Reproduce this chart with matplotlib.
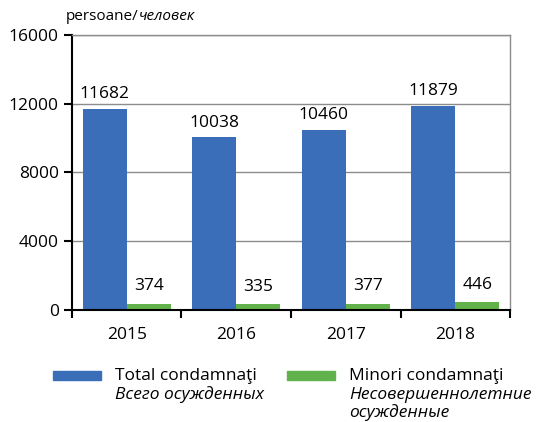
import numpy as np
import matplotlib.pyplot as plt
from matplotlib.patches import Rectangle

plt.rcParams['font.family'] = ['Open Sans', 'DejaVu Sans']

years = ['2015', '2016', '2017', '2018']
total = [11682, 10038, 10460, 11879]
minors = [374, 335, 377, 446]

blue = '#3a6eb8'
green = '#62b24c'

fig = plt.figure(figsize=(5.38, 4.22), dpi=100)
ax = fig.add_axes([0.1338, 0.2654, 0.8142, 0.6517])

x = np.arange(len(years))
w = 0.4
b1 = ax.bar(x - w / 2, total, w, color=blue, zorder=2)
b2 = ax.bar(x + w / 2, minors, w, color=green, zorder=2)

for rect, v in zip(b1, total):
    ax.annotate(str(v), (rect.get_x() + rect.get_width() / 2, v), xytext=(0, 5),
                textcoords='offset points', ha='center', va='bottom', fontsize=12.5)
for rect, v in zip(b2, minors):
    ax.annotate(str(v), (rect.get_x() + rect.get_width() / 2, v), xytext=(0, 7),
                textcoords='offset points', ha='center', va='bottom', fontsize=12.5)

ax.set_xlim(-0.5, len(years) - 0.5)
ax.set_ylim(0, 16000)
ax.set_yticks([0, 4000, 8000, 12000, 16000])
ax.set_xticks(x)
ax.set_xticklabels(years)
ax.set_xticks(np.arange(-0.5, len(years)), minor=True)
ax.tick_params(axis='x', which='major', length=0, pad=12, labelsize=12.5)
ax.tick_params(axis='x', which='minor', length=6, width=1.5, direction='out')
ax.tick_params(axis='y', length=6, width=1.5, direction='out', labelsize=12.5)
ax.yaxis.grid(True, color='#8c8c8c', linewidth=1, zorder=0)
ax.set_axisbelow(True)

for s in ['top', 'right']:
    ax.spines[s].set_color('#8c8c8c')
    ax.spines[s].set_linewidth(1)
for s in ['left', 'bottom']:
    ax.spines[s].set_color('black')
    ax.spines[s].set_linewidth(1.5)

t1 = fig.text(66 / 538, 1 - 17 / 422, 'persoane/', fontsize=11, va='center', ha='left')
ax.annotate('человек', xy=(1, 0.5), xycoords=t1, va='center', ha='left',
            fontsize=11, style='italic')

# legend
fig.patches.append(Rectangle((53 / 538, 1 - 380 / 422), 48 / 538, 9 / 422,
                             transform=fig.transFigure, color=blue, figure=fig))
fig.patches.append(Rectangle((287 / 538, 1 - 380 / 422), 48 / 538, 9 / 422,
                             transform=fig.transFigure, color=green, figure=fig))
fig.text(115 / 538, 1 - 376 / 422, 'Total condamnaţi', fontsize=12.5, va='center')
fig.text(115 / 538, 1 - 395 / 422, 'Всего осужденных', fontsize=12.5, va='center', style='italic')
fig.text(349 / 538, 1 - 376 / 422, 'Minori condamnaţi', fontsize=12.5, va='center')
fig.text(349 / 538, 1 - 395 / 422, 'Несовершеннолетние', fontsize=12.5, va='center', style='italic')
fig.text(349 / 538, 1 - 413 / 422, 'осужденные', fontsize=12.5, va='center', style='italic')

fig.savefig('out.png', dpi=100)
